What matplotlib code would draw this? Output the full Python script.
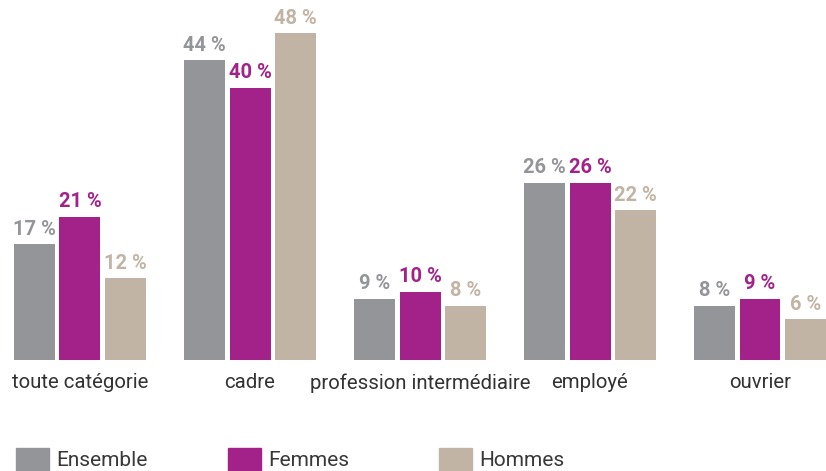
import matplotlib.pyplot as plt
from matplotlib.patches import Rectangle
import numpy as np

categories = ["toute catégorie", "cadre", "profession intermédiaire", "employé", "ouvrier"]
series = ["Ensemble", "Femmes", "Hommes"]
ensemble = [17, 44, 9, 26, 8]
femmes = [21, 40, 10, 26, 9]
hommes = [12, 48, 8, 22, 6]
colors = ["#939598", "#a3228a", "#c2b4a4"]

W, H = 826, 471
fig = plt.figure(figsize=(W / 100, H / 100), dpi=100)
base = 360  # baseline in pixels from top
ax = fig.add_axes([0, (H - base) / H, 1, base / H])
ax.set_xlim(-80 / 170, (W - 80) / 170)
ax.set_ylim(0, base / 6.81)
ax.axis("off")

x = np.arange(len(categories))
width = 41 / 170
step = 45.5 / 170
for i, (vals, col) in enumerate(zip([ensemble, femmes, hommes], colors)):
    pos = x + (i - 1) * step
    ax.bar(pos, vals, width=width, color=col)
    for px, v in zip(pos, vals):
        ax.annotate(f"{v} %", (px, v), xytext=(0, 4), textcoords="offset points",
                    ha="center", va="bottom", color=col, fontsize=14.5,
                    fontweight="bold", family="Roboto")

# noms des catégories sous les barres
for xi, cat in zip(x, categories):
    fig.text((80 + 170 * xi) / W, 1 - 383 / H, cat, ha="center", va="center",
             fontsize=14.7, color="#333333", family="Roboto")

# légende en bas
legend_x = [16, 228, 439]
for lx, name, col in zip(legend_x, series, colors):
    fig.patches.append(Rectangle((lx / W, 0), 33 / W, 23 / H,
                                 transform=fig.transFigure, color=col))
    fig.text((lx + 40) / W, 1 - 466 / H, name, ha="left", va="baseline",
             fontsize=15, color="#383838", family="Roboto")

fig.savefig("out.png", dpi=100)
